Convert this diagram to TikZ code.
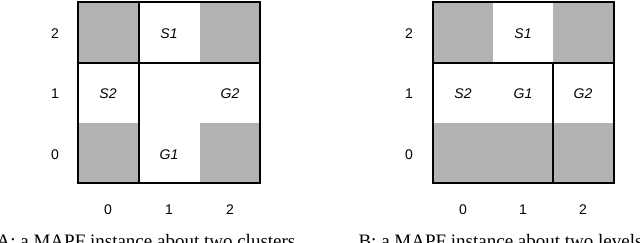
\documentclass[tikz,border=0pt]{standalone}
\usepackage{fontspec}
\setmainfont{Liberation Serif}
\newfontfamily\lsans{Liberation Sans}
\begin{document}
\begin{tikzpicture}[x=1pt,y=1pt,
  cellfill/.style={fill=black!30,draw=none},
  gridline/.style={line width=1.2pt,black},
  num/.style={font=\lsans\fontsize{14}{16}\selectfont,inner sep=0pt},
  agent/.style={font=\lsans\itshape\fontsize{14}{16}\selectfont,inner sep=0pt},
  captext/.style={font=\fontsize{19}{22}\selectfont,inner sep=0pt,anchor=base}]
\useasboundingbox (0,0) rectangle (640,243);
% ---------- A ----------
\fill[cellfill] (78,180) rectangle (139,241);
\fill[cellfill] (200,180) rectangle (260,241);
\fill[cellfill] (78,60) rectangle (139,120);
\fill[cellfill] (200,60) rectangle (260,120);
\draw[gridline] (78,60) rectangle (260,241);
\draw[gridline] (139,60) -- (139,241);
\draw[gridline] (78,180) -- (260,180);
\node[agent] (aS1) at (169,209) {S1};
\node[agent] (aS2) at (108,149) {S2};
\node[agent] (aG2) at (230,149) {G2};
\node[agent] (aG1) at (169,88) {G1};
\node[num] (ar2) at (55,209) {2};
\node[num] (ar1) at (55,149) {1};
\node[num] (ar0) at (55,88) {0};
\node[num] (ac0) at (108,33) {0};
\node[num] (ac1) at (169,33) {1};
\node[num] (ac2) at (230,33) {2};
\node[captext] (capA) at (146,-4.6) {A: a MAPF instance about two clusters};
% ---------- B ----------
\fill[cellfill] (433,180) rectangle (493,241);
\fill[cellfill] (553,180) rectangle (614,241);
\fill[cellfill] (433,60) rectangle (614,120);
\draw[gridline] (433,60) rectangle (614,241);
\draw[gridline] (553,60) -- (553,180);
\draw[gridline] (433,180) -- (614,180);
\node[agent] (bS1) at (523,209) {S1};
\node[agent] (bS2) at (463,149) {S2};
\node[agent] (bG1) at (523,149) {G1};
\node[agent] (bG2) at (583,149) {G2};
\node[num] (br2) at (409,209) {2};
\node[num] (br1) at (409,149) {1};
\node[num] (br0) at (409,88) {0};
\node[num] (bc0) at (463,33) {0};
\node[num] (bc1) at (523,33) {1};
\node[num] (bc2) at (583,33) {2};
\node[captext] (capB) at (500.5,-4.6) {B: a MAPF instance about two levels};
\end{tikzpicture}
\end{document}
